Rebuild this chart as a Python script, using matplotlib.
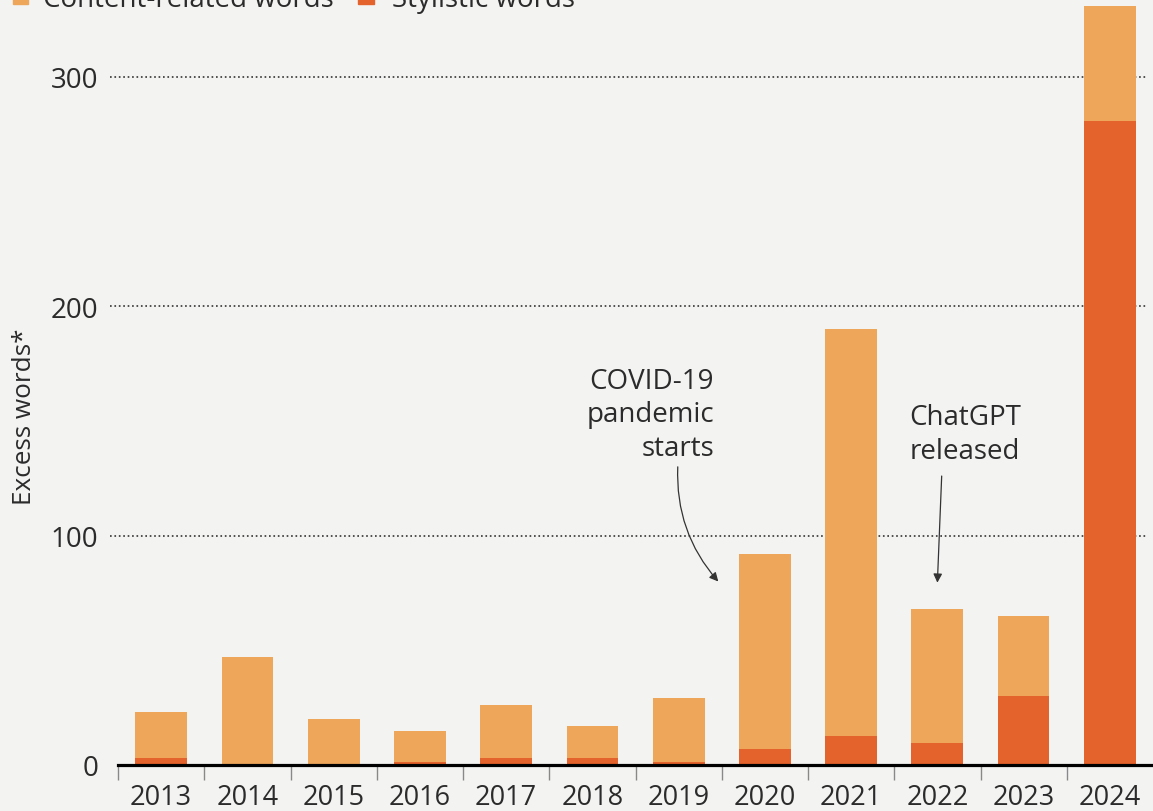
import matplotlib.pyplot as plt
import numpy as np

plt.rcParams["font.family"] = ["Open Sans", "DejaVu Sans"]

# data
years = ["2013", "2014", "2015", "2016", "2017", "2018",
         "2019", "2020", "2021", "2022", "2023", "2024"]
total_words = [23, 47, 20, 15, 26, 17, 29, 92, 190, 68, 65, 331]
stylistic = [3, 0, 0, 1.5, 3, 3, 1.5, 7, 12.5, 9.5, 30, 281]
content = [t - s for t, s in zip(total_words, stylistic)]

yticks = [0, 100, 200, 300]

c_content = "#EEA75A"
c_style = "#E4622B"
txt = "#2b2b2b"
bg = "#F3F3F2"

fig = plt.figure(figsize=(11.53, 8.12), dpi=100, facecolor=bg)
ax = fig.add_axes([118 / 1153, 46 / 812, 1 - 118 / 1153, 1 - 46 / 812])
ax.set_facecolor(bg)

x = np.arange(len(years))
ax.bar(x, stylistic, width=0.6, color=c_style, zorder=3)
ax.bar(x, content, bottom=stylistic, width=0.6, color=c_content, zorder=3)

ax.set_xlim(-0.5, 11.5)
ax.set_ylim(0, 334)

# dotted gridlines
for v in yticks[1:]:
    ax.axhline(v, xmin=-0.008, xmax=0.993, color="#333333", lw=1.2,
               ls=":", zorder=1, clip_on=False)

for s in ["top", "right", "left"]:
    ax.spines[s].set_visible(False)
ax.spines["bottom"].set_color("black")
ax.spines["bottom"].set_linewidth(2.3)
ax.spines["bottom"].set_zorder(4)

ax.set_yticks(yticks)
ax.set_yticklabels([str(v) for v in yticks])
ax.tick_params(axis="y", length=0, pad=14, labelsize=20, labelcolor=txt)

# year labels at bar centres, tick marks at the boundaries
ax.set_xticks(x - 0.5)
ax.set_xticklabels([])
ax.set_xticks(x, minor=True)
ax.set_xticklabels(years, minor=True)
ax.tick_params(axis="x", which="major", length=11, width=1, color="#888888")
ax.tick_params(axis="x", which="minor", length=0, pad=13, labelsize=19.5,
               labelcolor=txt)

fig.text(25 / 1153, 1 - 417 / 812, "Excess words*", rotation=90,
         ha="center", va="center", fontsize=18.8, color=txt)

# annotations
ax.text(6.41, 173.5, "COVID-19\npandemic\nstarts", ha="right", va="top",
        fontsize=20, color=txt, linespacing=1.25)
ax.annotate("", xy=(6.46, 80), xytext=(5.99, 130),
            arrowprops=dict(arrowstyle="-|>", color="#333333", lw=0.9,
                            connectionstyle="arc3,rad=0.2",
                            shrinkA=0, shrinkB=0, mutation_scale=13))
ax.text(9.32, 158, "ChatGPT\nreleased", ha="center", va="top",
        fontsize=20, color=txt, linespacing=1.3)
ax.annotate("", xy=(9.0, 79.5), xytext=(9.05, 126),
            arrowprops=dict(arrowstyle="-|>", color="#333333", lw=0.9,
                            shrinkA=0, shrinkB=0, mutation_scale=13))

# legend cut off at the top edge
fig.patches.append(plt.Rectangle((13 / 1153, 1 - 5 / 812), 15 / 1153, 15 / 812,
                                 transform=fig.transFigure, color=c_content))
fig.text(43 / 1153, 1 - 7 / 812, "Content-related words", ha="left",
         va="baseline", fontsize=20, color=txt)
fig.patches.append(plt.Rectangle((358 / 1153, 1 - 5 / 812), 16 / 1153, 15 / 812,
                                 transform=fig.transFigure, color=c_style))
fig.text(392 / 1153, 1 - 7 / 812, "Stylistic words", ha="left",
         va="baseline", fontsize=20, color=txt)

fig.savefig("out.png", dpi=100, facecolor=bg)
